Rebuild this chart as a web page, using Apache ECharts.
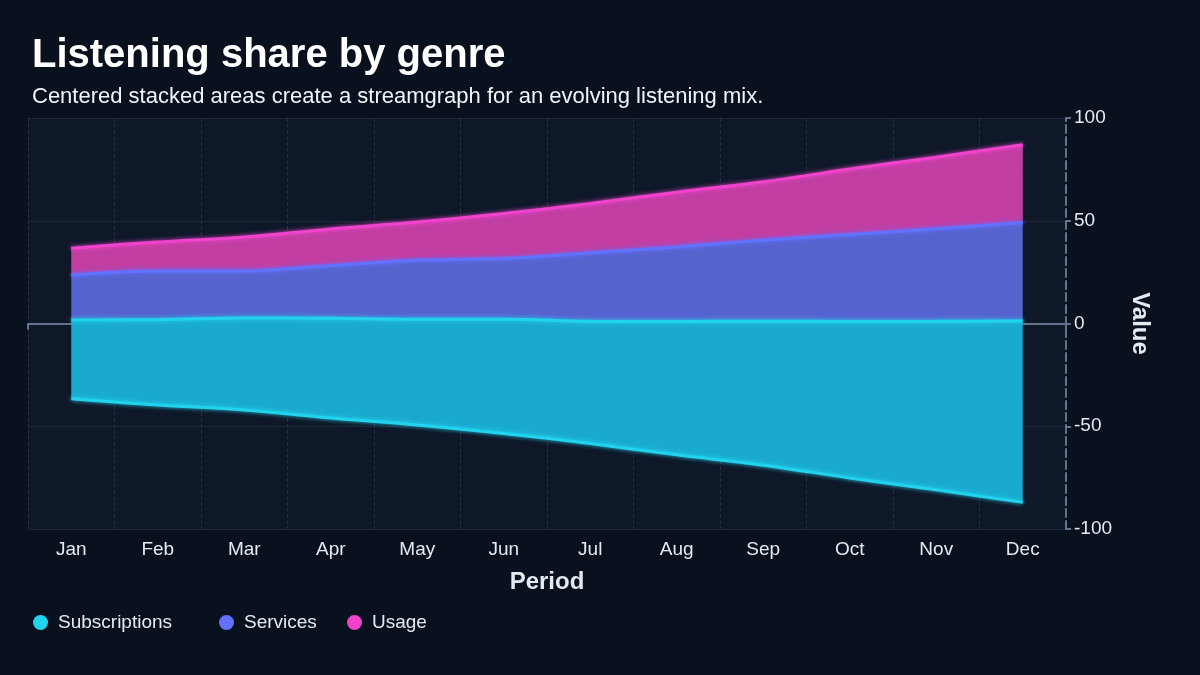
<!DOCTYPE html>
<html>
<head>
<meta charset="utf-8">
<title>Listening share by genre</title>
<script src="https://cdn.jsdelivr.net/npm/echarts@6/dist/echarts.min.js"></script>
<style>
  html, body { margin: 0; padding: 0; background: #0a111e; }
  #chart { width: 1200px; height: 675px; }
</style>
</head>
<body>
<div id="chart"></div>
<script>
var months = ['Jan', 'Feb', 'Mar', 'Apr', 'May', 'Jun', 'Jul', 'Aug', 'Sep', 'Oct', 'Nov', 'Dec'];
var subscriptions = [38.4, 41.5, 44.8, 48.5, 51.4, 55.6, 59.5, 64.9, 70.1, 76.2, 82.0, 88.3];
var services = [21.9, 23.7, 22.9, 25.7, 28.7, 29.5, 33.3, 36.2, 39.4, 42.3, 45.0, 47.9];
var usage = [13.0, 14.1, 16.5, 17.8, 18.6, 21.9, 24.0, 26.7, 28.4, 31.9, 34.9, 37.9];
var yTicks = [-100, -50, 0, 50, 100];
var legendNames = ['Subscriptions', 'Services', 'Usage'];
var legendLeft = [28, 214, 342];

// centre the stream: the hidden base sits at minus half of each month's total
var baseline = months.map(function (m, i) {
    return -(subscriptions[i] + services[i] + usage[i]) / 2;
});

var textColor = '#e5e9f0';
var axisGrey = '#64748b';

function streamSeries(name, data, lineColor, fillColor) {
    return {
        name: name,
        type: 'line',
        stack: 'stream',
        stackStrategy: 'all',
        smooth: 0.35,
        symbol: 'none',
        data: data,
        lineStyle: { width: 3, color: lineColor, shadowColor: lineColor, shadowBlur: 4 },
        itemStyle: { color: lineColor },
        areaStyle: { color: fillColor, opacity: 1 },
        emphasis: { disabled: true }
    };
}

// one legend per item so each sits where the reference puts it
var legends = legendNames.map(function (name, i) {
    return {
        data: [name],
        left: legendLeft[i],
        top: 608,
        icon: 'circle',
        itemWidth: 15,
        itemHeight: 15,
        itemGap: 0,
        textStyle: { color: textColor, fontSize: 19, padding: [0, 0, 0, 5] }
    };
});

var chart = echarts.init(document.getElementById('chart'));
chart.setOption({
    backgroundColor: '#0a111e',
    animation: false,
    textStyle: { fontFamily: 'Liberation Sans, Arial, sans-serif' },
    title: {
        text: 'Listening share by genre',
        subtext: 'Centered stacked areas create a streamgraph for an evolving listening mix.',
        left: 27,
        top: 31,
        itemGap: 10,
        textStyle: { color: '#ffffff', fontSize: 40, fontWeight: 'bold' },
        subtextStyle: { color: '#f1f5f9', fontSize: 22 }
    },
    legend: legends,
    grid: {
        left: 28,
        right: 134,
        top: 118,
        bottom: 146,
        show: true,
        backgroundColor: '#0e1829',
        borderWidth: 0
    },
    xAxis: [{
        type: 'category',
        data: months,
        boundaryGap: true,
        position: 'bottom',
        axisLine: { onZero: false, show: false },
        axisTick: { show: false },
        axisLabel: { color: textColor, fontSize: 19, margin: 11 },
        name: 'Period',
        nameLocation: 'middle',
        nameGap: 41,
        nameTextStyle: { color: textColor, fontSize: 24, fontWeight: 'bold' },
        splitLine: { show: true, lineStyle: { color: '#222f43', type: 'dashed' } }
    }, {
        type: 'category',
        data: months,
        boundaryGap: true,
        position: 'bottom',
        axisLine: { onZero: true, lineStyle: { color: axisGrey, width: 2 } },
        axisTick: { show: true, length: 6, lineStyle: { color: axisGrey, width: 2 } },
        axisLabel: { show: false },
        splitLine: { show: false }
    }],
    yAxis: {
        type: 'value',
        position: 'right',
        min: yTicks[0],
        max: yTicks[yTicks.length - 1],
        interval: 50,
        name: 'Value',
        nameLocation: 'middle',
        nameRotate: -90,
        nameGap: 62,
        nameTextStyle: { color: textColor, fontSize: 24, fontWeight: 'bold' },
        axisLine: { show: true, lineStyle: { color: axisGrey, width: 2, type: 'dashed' } },
        axisTick: { show: true, length: 5, lineStyle: { color: axisGrey, width: 2 } },
        axisLabel: { color: textColor, fontSize: 19, margin: 8 },
        splitLine: { show: true, lineStyle: { color: '#1c283a', width: 1 } }
    },
    series: [{
        name: 'base',
        type: 'line',
        stack: 'stream',
        stackStrategy: 'all',
        smooth: 0.35,
        symbol: 'none',
        data: baseline,
        lineStyle: { width: 3, color: '#22d3ee', shadowColor: '#22d3ee', shadowBlur: 4 },
        emphasis: { disabled: true }
    },
        streamSeries('Subscriptions', subscriptions, '#22d3ee', '#1aaacf'),
        streamSeries('Services', services, '#6272ff', '#5663cf'),
        streamSeries('Usage', usage, '#f043cc', '#c23ea3')
    ]
});
</script>
</body>
</html>
